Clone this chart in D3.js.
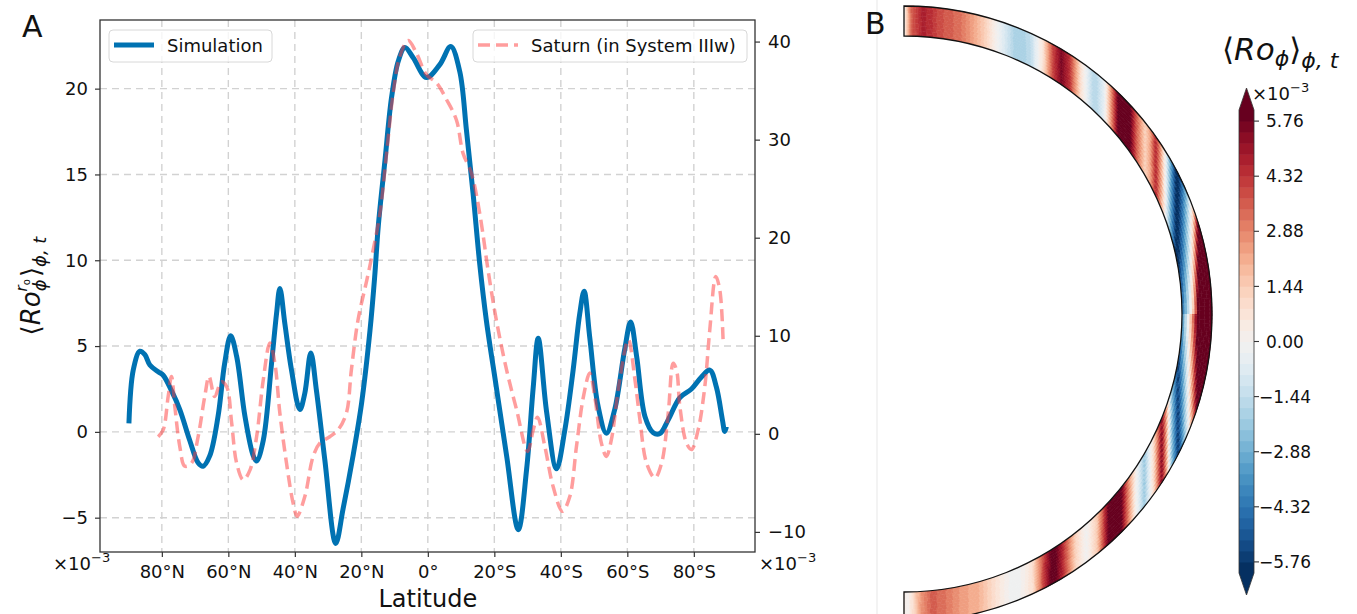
<!DOCTYPE html>
<html>
<head>
<meta charset="utf-8">
<script src="https://cdn.jsdelivr.net/npm/d3@7"></script>
<style>
  body { margin: 0; background: #fff; }
  svg text { font-family: "DejaVu Sans", sans-serif; fill: #111; }
</style>
</head>
<body>
<svg id="chart" width="1357" height="614"></svg>
<script>
// ---------- Data ----------
// Simulation, Ro at outer surface vs latitude (deg, N positive), x1e-3
const simLat = [89.9, 88.6, 86.6, 85.1, 83.6, 81.1, 79.6, 77.1, 74.6, 71.6, 69.1, 67.6, 65.6, 63.1,
  61.1, 59.3, 57.5, 55.0, 52.5, 51.5, 49.5, 47.0, 45.5, 44.5, 43.0, 41.0, 38.5, 37.0, 35.2, 33.5,
  31.0, 27.7, 25.5, 22.5, 19.9, 17.4, 16.0, 14.9, 12.9, 10.9, 8.9, 6.9, 4.4, 0.4, -3.6, -6.9,
  -9.6, -11.6, -13.6, -15.6, -17.6, -20.6, -23.7, -27.2, -29.7, -31.7, -33.2, -35.7, -38.7, -41.2,
  -43.7, -45.7, -47.0, -48.7, -51.2, -53.7, -56.2, -59.2, -61.0, -62.8, -65.3, -67.8, -69.8, -72.3,
  -75.8, -79.3, -82.3, -84.8, -86.8, -88.6, -89.3, -89.8];
const simVal = [0.5, 3.6, 4.7, 4.5, 3.9, 3.5, 3.3, 2.4, 1.3, -0.5, -1.8, -2.0, -1.4, 0.9,
  4.0, 5.6, 4.4, 0.9, -1.4, -1.7, -0.5, 4.0, 6.9, 8.35, 6.3, 3.6, 1.3, 2.25, 4.6, 2.4,
  -1.6, -6.5, -4.5, -1.4, 1.7, 5.9, 9.0, 12.0, 15.8, 19.5, 21.6, 22.4, 21.8, 20.65, 21.4, 22.45,
  21.0, 17.6, 13.9, 9.8, 6.5, 2.6, -1.4, -5.7, -2.2, 2.6, 5.45, 1.2, -2.15, 0.1,
  3.6, 6.9, 8.2, 5.5, 1.5, -0.08, 1.3, 4.8, 6.4, 4.4, 0.9, -0.05, -0.1, 0.7,
  2.0, 2.5, 3.2, 3.6, 2.6, 0.7, 0.02, 0.3];

// Saturn (System IIIw), right axis units, x1e-3
const satLat = [81.1, 79.6, 78.1, 77.1, 76.1, 74.6, 73.1, 71.1, 69.1, 67.1, 65.8, 64.1, 62.1, 60.5,
  59.0, 57.5, 55.5, 53.5, 51.5, 49.5, 47.5, 46.0, 44.5, 42.5, 40.5, 39.3, 37.0, 34.5, 32.5, 29.5,
  27.0, 24.5, 23.0, 21.0, 18.4, 16.9, 14.4, 12.4, 10.4, 8.4, 5.9, 3.4, 0.4, -2.6, -5.6, -8.6,
  -10.6, -13.1, -15.6, -18.2, -20.6, -23.7, -26.7, -30.0, -31.7, -33.0, -35.2, -37.7, -40.5, -42.7,
  -44.7, -46.8, -48.7, -50.2, -52.2, -53.7, -55.2, -57.7, -60.3, -62.3, -63.8, -65.8, -68.3, -70.3,
  -72.3, -73.8, -74.8, -75.8, -77.8, -79.3, -81.3, -83.3, -84.8, -86.6, -87.8, -88.8];
const satVal = [-0.3, 0.4, 3.8, 5.85, 2.8, -1.3, -3.3, -3.0, -0.3, 3.8, 5.85, 3.8, 5.3, 4.8,
  1.1, -3.0, -4.7, -3.7, -0.3, 5.5, 9.25, 7.2, 2.1, -3.0, -7.1, -8.4, -6.4, -2.3, -0.95, -0.3,
  0.4, 2.1, 6.5, 11.6, 15.6, 18.0, 22.5, 28.6, 34.8, 38.5, 40.1, 38.8, 36.6, 35.8, 34.1, 32.0,
  28.6, 26.6, 22.5, 16.5, 11.6, 6.5, 2.45, -1.8, 0.4, 1.7, -1.3, -5.4, -7.9, -6.4,
  -1.3, 3.8, 6.2, 3.8, -0.95, -2.3, -0.6, 5.5, 9.6, 5.5, 1.4, -3.0, -4.5, -3.0,
  2.1, 7.2, 6.5, 2.8, -0.95, -1.6, 0.4, 4.8, 10.6, 16.05, 14.7, 9.6];

const latTicks = [80, 60, 40, 20, 0, -20, -40, -60, -80];
const leftTicks = [-5, 0, 5, 10, 15, 20];
const rightTicks = [-10, 0, 10, 20, 30, 40];
const cbarTicks = [5.76, 4.32, 2.88, 1.44, 0, -1.44, -2.88, -4.32, -5.76];
const cbMax = 6.05;
const nLevels = 42;

const svg = d3.select("#chart");

// ---------- Panel A ----------
const plot = { left: 100, right: 755, top: 20, bottom: 552 };

const x = d3.scaleLinear().domain([98.6, -98.4]).range([plot.left, plot.right]);
const yL = d3.scaleLinear().domain([-7, 24]).range([plot.bottom, plot.top]);
const yR = d3.scaleLinear().domain([-12.05, 42.2]).range([plot.bottom, plot.top]);

svg.append("defs").append("clipPath").attr("id", "clipA")
  .append("rect")
  .attr("x", plot.left).attr("y", plot.top)
  .attr("width", plot.right - plot.left).attr("height", plot.bottom - plot.top);

// grid
const grid = svg.append("g").attr("stroke", "#d2d2d2").attr("stroke-width", 1.4)
  .attr("stroke-dasharray", "7,5");
grid.selectAll("line.v").data(latTicks).join("line")
  .attr("x1", d => x(d)).attr("x2", d => x(d))
  .attr("y1", plot.top).attr("y2", plot.bottom);
grid.selectAll("line.h").data(leftTicks).join("line")
  .attr("x1", plot.left).attr("x2", plot.right)
  .attr("y1", d => yL(d)).attr("y2", d => yL(d));

// lines
const simLine = d3.line()
  .x(d => x(d[0])).y(d => yL(d[1]))
  .curve(d3.curveCatmullRom.alpha(0.5));
const satLine = d3.line()
  .x(d => x(d[0])).y(d => yR(d[1]))
  .curve(d3.curveCatmullRom.alpha(0.5));

const lines = svg.append("g").attr("clip-path", "url(#clipA)");
lines.append("path")
  .attr("d", simLine(d3.zip(simLat, simVal)))
  .attr("fill", "none").attr("stroke", "#0072b2")
  .attr("stroke-width", 5).attr("stroke-linejoin", "round");
lines.append("path")
  .attr("d", satLine(d3.zip(satLat, satVal)))
  .attr("fill", "none").attr("stroke", "#ff3b3b").attr("stroke-opacity", 0.5)
  .attr("stroke-width", 3.5).attr("stroke-dasharray", "12,6");

// axes
function styleAxis(g) {
  g.select(".domain").remove();
  g.selectAll(".tick line").attr("stroke", "#333").attr("stroke-width", 1.2);
  g.selectAll(".tick text").attr("font-size", 18)
    .attr("font-family", "DejaVu Sans, sans-serif").attr("fill", "#111");
}

const latFmt = d => `${Math.abs(d)}°${d > 0 ? "N" : d < 0 ? "S" : ""}`;
svg.append("g").attr("transform", `translate(0,${plot.bottom})`)
  .call(d3.axisBottom(x).tickValues(latTicks).tickFormat(latFmt)
    .tickSize(5).tickPadding(8).tickSizeOuter(0))
  .call(styleAxis);
svg.append("g").attr("transform", `translate(${plot.left},0)`)
  .call(d3.axisLeft(yL).tickValues(leftTicks).tickFormat(d => d < 0 ? "\u2212" + (-d) : d)
    .tickSize(5).tickPadding(7).tickSizeOuter(0))
  .call(styleAxis);
svg.append("g").attr("transform", `translate(${plot.right},0)`)
  .call(d3.axisRight(yR).tickValues(rightTicks).tickFormat(d => d < 0 ? "\u2212" + (-d) : d)
    .tickSize(5).tickPadding(8).tickSizeOuter(0))
  .call(styleAxis);

svg.append("rect")
  .attr("x", plot.left).attr("y", plot.top)
  .attr("width", plot.right - plot.left).attr("height", plot.bottom - plot.top)
  .attr("fill", "none").attr("stroke", "#333").attr("stroke-width", 1.3);

// legends
function legendBox(bx, w, label, dashed) {
  const g = svg.append("g");
  g.append("rect").attr("x", bx).attr("y", 30).attr("width", w).attr("height", 32)
    .attr("rx", 4).attr("fill", "#fff").attr("fill-opacity", 0.8)
    .attr("stroke", "#d8d8d8").attr("stroke-width", 1);
  const l = g.append("line").attr("x1", bx + 5).attr("x2", bx + 45)
    .attr("y1", 45).attr("y2", 45);
  if (dashed) {
    l.attr("stroke", "#ff3b3b").attr("stroke-opacity", 0.5)
      .attr("stroke-width", 3.5).attr("stroke-dasharray", "12,6");
  } else {
    l.attr("stroke", "#0072b2").attr("stroke-width", 5);
  }
  g.append("text").attr("x", bx + 58).attr("y", 52).attr("font-size", 18).text(label);
}
legendBox(109, 163, "Simulation", false);
legendBox(473, 274, "Saturn (in System IIIw)", true);

// scale factor labels
function sciLabel(xp, yp) {
  const t = svg.append("text").attr("x", xp).attr("y", yp).attr("font-size", 18);
  t.append("tspan").text("×10");
  t.append("tspan").attr("font-size", 13).attr("dy", -8).text("\u22123");
}
sciLabel(53, 570);
sciLabel(759, 570);

svg.append("text").attr("x", x(0)).attr("y", 607).attr("text-anchor", "middle")
  .attr("font-size", 24).text("Latitude");

// y label ⟨Ro_ϕ^{r_o}⟩_{ϕ,t}
const yl = svg.append("text").attr("transform", "translate(40,286) rotate(-90)")
  .attr("text-anchor", "middle").attr("font-size", 26);
yl.append("tspan").text("⟨");
yl.append("tspan").attr("font-style", "italic").text("Ro");
yl.append("tspan").attr("font-style", "italic").attr("font-size", 18).attr("dy", 6).text("ϕ");
yl.append("tspan").attr("font-style", "italic").attr("font-size", 15).attr("dx", -12).attr("dy", -19).text("r");
yl.append("tspan").attr("font-size", 10).attr("dy", 3).text("o");
yl.append("tspan").attr("font-size", 26).attr("dx", 2).attr("dy", 10).text("⟩");
yl.append("tspan").attr("font-style", "italic").attr("font-size", 18).attr("dy", 6).text("ϕ, t");

svg.append("text").attr("x", 22).attr("y", 37).attr("font-size", 30).text("A");

// ---------- Panel B ----------
svg.append("line").attr("x1", 877).attr("x2", 877).attr("y1", 0).attr("y2", 614)
  .attr("stroke", "#efefef").attr("stroke-width", 1.5);
svg.append("text").attr("x", 865).attr("y", 34).attr("font-size", 30).text("B");

const ring = { cx: 904, cy: 314, rIn: 278, rOut: 308 };
const nAng = 720, nRad = 12;

const simAt = d3.scaleLinear().domain(simLat).range(simVal).clamp(true);
const levelColors = d3.quantize(t => d3.interpolateRdBu(1 - t), nLevels);
const color = d3.scaleQuantize().domain([-cbMax, cbMax]).range(levelColors);

// field along cylinders: value at (r, lat) taken from outer-surface profile
const cells = [];
const angStep = Math.PI / nAng;
const radStep = (ring.rOut - ring.rIn) / nRad;
d3.range(nAng).forEach(i => {
  d3.range(nRad).forEach(j => {
    const a0 = i * angStep, a1 = (i + 1) * angStep;
    const r0 = ring.rIn + j * radStep, r1 = r0 + radStep;
    const lat = 90 - ((a0 + a1) / 2) * 180 / Math.PI;
    const rm = (r0 + r1) / 2;
    const s = rm * Math.cos(lat * Math.PI / 180);
    const latO = Math.sign(lat) * Math.acos(Math.min(1, s / ring.rOut)) * 180 / Math.PI;
    cells.push({ a0, a1, r0, r1, v: simAt(latO) });
  });
});

const arc = d3.arc();
const gRing = svg.append("g").attr("transform", `translate(${ring.cx},${ring.cy})`);
gRing.selectAll("path.cell").data(cells).join("path")
  .attr("class", "cell")
  .attr("d", d => arc({ innerRadius: d.r0, outerRadius: d.r1 + 0.3, startAngle: d.a0, endAngle: d.a1 + 0.002 }))
  .attr("fill", d => color(d.v));
gRing.append("path")
  .attr("d", arc({ innerRadius: ring.rIn, outerRadius: ring.rOut, startAngle: 0, endAngle: Math.PI }))
  .attr("fill", "none").attr("stroke", "#111").attr("stroke-width", 1.3);

// colorbar
const cb = { x: 1239, w: 15, top: 110, bottom: 573, tip: 22 };
const cbY = d3.scaleLinear().domain([-cbMax, cbMax]).range([cb.bottom, cb.top]);
const lvlStep = 2 * cbMax / nLevels;
svg.append("g").selectAll("rect").data(levelColors).join("rect")
  .attr("x", cb.x).attr("width", cb.w)
  .attr("y", (d, i) => cbY(-cbMax + (i + 1) * lvlStep))
  .attr("height", (d, i) => cbY(-cbMax + i * lvlStep) - cbY(-cbMax + (i + 1) * lvlStep) + 0.5)
  .attr("fill", d => d);
svg.append("path")
  .attr("d", `M${cb.x},${cb.top}L${cb.x + cb.w / 2},${cb.top - cb.tip}L${cb.x + cb.w},${cb.top}Z`)
  .attr("fill", levelColors[nLevels - 1]);
svg.append("path")
  .attr("d", `M${cb.x},${cb.bottom}L${cb.x + cb.w / 2},${cb.bottom + cb.tip}L${cb.x + cb.w},${cb.bottom}Z`)
  .attr("fill", levelColors[0]);
svg.append("path")
  .attr("d", `M${cb.x},${cb.top}L${cb.x + cb.w / 2},${cb.top - cb.tip}L${cb.x + cb.w},${cb.top}` +
    `L${cb.x + cb.w},${cb.bottom}L${cb.x + cb.w / 2},${cb.bottom + cb.tip}L${cb.x},${cb.bottom}Z`)
  .attr("fill", "none").attr("stroke", "#333").attr("stroke-width", 0.8);

const cbTicks = svg.append("g");
cbTicks.selectAll("line").data(cbarTicks).join("line")
  .attr("x1", cb.x + cb.w).attr("x2", cb.x + cb.w + 5)
  .attr("y1", d => cbY(d)).attr("y2", d => cbY(d))
  .attr("stroke", "#333").attr("stroke-width", 1.1);
cbTicks.selectAll("text").data(cbarTicks).join("text")
  .attr("x", d => cb.x + cb.w + (d >= 0 ? 12 : 5))
  .attr("y", d => cbY(d)).attr("dy", "0.36em")
  .attr("font-size", 17)
  .text(d => (d < 0 ? "\u2212" : "") + Math.abs(d).toFixed(2));

sciLabel(1252, 100);

const ct = svg.append("text").attr("x", 1222).attr("y", 60).attr("font-size", 31);
ct.append("tspan").text("⟨");
ct.append("tspan").attr("font-style", "italic").text("Ro");
ct.append("tspan").attr("font-style", "italic").attr("font-size", 22).attr("dy", 6).text("ϕ");
ct.append("tspan").attr("dy", -6).text("⟩");
ct.append("tspan").attr("font-style", "italic").attr("font-size", 22).attr("dy", 8).text("ϕ, t");
</script>
</body>
</html>
